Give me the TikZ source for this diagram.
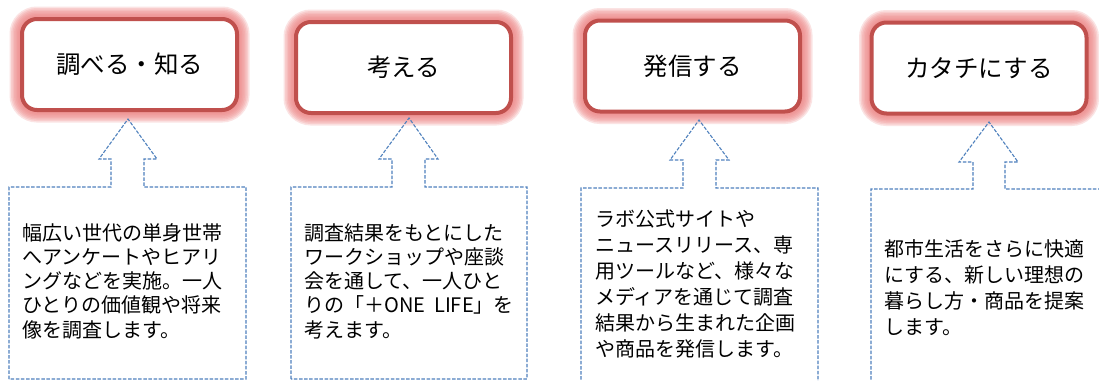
\documentclass[tikz,border=0pt]{standalone}
\usepackage{fontspec}
\setmainfont{Noto Sans CJK JP}
\definecolor{boxred}{RGB}{192,80,77}
\definecolor{glowpink}{RGB}{238,130,130}
\definecolor{dashblue}{RGB}{79,129,189}
\tikzset{
  glowlayer/.style={preaction={draw=glowpink, draw opacity=0.22, line width=#1}},
  titlebox/.style={draw=boxred, line width=4pt, fill=white, rounded corners=15pt,
    minimum width=215pt, minimum height=91pt, inner sep=0pt, text=black,
    font=\fontsize{24.5}{29}\selectfont,
    glowlayer=25pt, glowlayer=22pt, glowlayer=19pt, glowlayer=16pt,
    glowlayer=13pt, glowlayer=10pt, glowlayer=7pt},
  callout/.style={draw=dashblue, line width=1.1pt, dash pattern=on 3.5pt off 1.6pt, line join=miter},
  desc/.style={anchor=north west, inner sep=0pt, align=left, text=black},
  descA/.style={desc, font=\fontsize{20}{24.3}\selectfont},
  descB/.style={desc, font=\fontsize{20}{26}\selectfont},
}
\begin{document}
\begin{tikzpicture}[x=1pt,y=-1pt]
\useasboundingbox (0,0) rectangle (1099,380);
\fill[white] (0,0) rectangle (1099,380);
\clip (0,0) rectangle (1099,380);

% title boxes
\node[titlebox] (t1) at (129.5,64.5) {調べる・知る};
\node[titlebox] (t2) at (403.5,67.5) {考える};
\node[titlebox] (t3) at (692.5,66) {発信する};
\node[titlebox] (t4) at (979,68) {カタチにする};

% callouts
\draw[callout] (9,379) -- (9,187) -- (111,187) -- (111,159) -- (99,159) -- (128,119)
  -- (157,159) -- (144,159) -- (144,187) -- (246,187) -- (246,379) -- cycle;
\draw[callout] (291,379) -- (291,187) -- (392,187) -- (392,159) -- (379,159) -- (409,118)
  -- (438,159) -- (425,159) -- (425,187) -- (527,187) -- (527,379) -- cycle;
\draw[callout] (581,395) -- (581,188) -- (683,188) -- (683,160) -- (670,160) -- (699,120)
  -- (729,160) -- (716,160) -- (716,188) -- (818,188) -- (818,395);
\draw[callout] (871,395) -- (871,189) -- (973,189) -- (973,162) -- (959,162) -- (989,122)
  -- (1018,162) -- (1005,162) -- (1005,189) -- (1110,189);

% descriptions
\node[descA] (d1) at (22,223) {幅広い世代の単身世帯\\へアンケートやヒアリ\\ングなどを実施。一人\\ひとりの価値観や将来\\像を調査します。};
\node[descA] (d2) at (304,223) {調査結果をもとにした\\ワークショップや座談\\会を通して、一人ひと\\りの「＋ONE\ \ LIFE」を\\考えます。};
\node[descB] (d3) at (595,210) {ラボ公式サイトや\\ニュースリリース、専\\用ツールなど、様々な\\メディアを通じて調査\\結果から生まれた企画\\や商品を発信します。};
\node[descB] (d4) at (884,239) {都市生活をさらに快適\\にする、新しい理想の\\暮らし方・商品を提案\\します。};
\end{tikzpicture}
\end{document}
